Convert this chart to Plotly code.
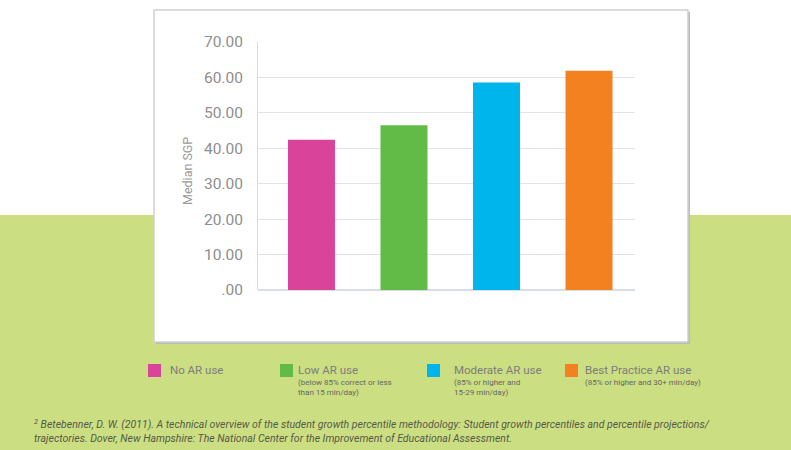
import plotly.graph_objects as go

# ---- data ----
categories = ["No AR use", "Low AR use", "Moderate AR use", "Best Practice AR use"]
median_sgp = [42.4, 46.5, 58.6, 61.9]
bar_colors = ["#d9449a", "#62bb46", "#00b5ec", "#f48120"]
legend_sub = ["", "(below 85% correct or less<br>than 15 min/day)",
              "(85% or higher and<br>15-29 min/day)", "(85% or higher and 30+ min/day)"]
tick_vals = [0, 10, 20, 30, 40, 50, 60, 70]
tick_text = [".00", "10.00", "20.00", "30.00", "40.00", "50.00", "60.00", "70.00"]
y_title = "Median SGP"
footnote = ("<sup>2</sup> Betebenner, D. W. (2011). A technical overview of the student growth percentile "
            "methodology: Student growth percentiles and percentile projections/<br>"
            "trajectories. Dover, New Hampshire: The National Center for the Improvement of Educational Assessment.")

W, H = 791, 450
L, R, T, B = 258, 156, 42, 160
PW, PH = W - L - R, H - T - B


def px(x):
    return (x - L) / PW


def py(y):
    return (H - B - y) / PH


FONT = "Roboto"

fig = go.Figure()
fig.add_trace(go.Bar(
    x=categories, y=median_sgp, marker=dict(color=bar_colors, line=dict(width=0)),
    width=0.508, showlegend=False, hoverinfo="x+y"))

shapes = [
    # green band
    dict(type="rect", xref="paper", yref="paper", x0=px(-5), x1=px(W + 5), y0=py(H + 5), y1=py(215),
         fillcolor="#cbde81", line=dict(width=0), layer="below"),
    # shadow
    dict(type="rect", xref="paper", yref="paper", x0=px(156), x1=px(690), y0=py(344), y1=py(12),
         fillcolor="#b9bdb0", line=dict(width=0), layer="below"),
    # white box
    dict(type="rect", xref="paper", yref="paper", x0=px(154), x1=px(688), y0=py(342), y1=py(10),
         fillcolor="white", line=dict(color="#cfcfcf", width=1.5), layer="below"),
]

annotations = [
    dict(xref="paper", yref="paper", x=px(187), y=py(171), text=y_title, textangle=-90,
         showarrow=False, font=dict(family=FONT, size=12.5, color="#9a9a9a"),
         xanchor="center", yanchor="middle"),
    dict(xref="paper", yref="paper", x=px(32), y=py(431), text=footnote, showarrow=False,
         xanchor="left", yanchor="middle", align="left",
         font=dict(family=FONT, size=10.5, color="#555a4a", style="italic")),
]

sq_x = [148, 280, 427, 565]
txt_x = [168, 296, 452, 583]
for i, cat in enumerate(categories):
    shapes.append(dict(type="rect", xref="paper", yref="paper",
                       x0=px(sq_x[i]), x1=px(sq_x[i] + 13), y0=py(377), y1=py(364),
                       fillcolor=bar_colors[i], line=dict(width=0)))
    annotations.append(dict(xref="paper", yref="paper", x=px(txt_x[i]), y=py(370), text=cat,
                            showarrow=False, xanchor="left", yanchor="middle",
                            font=dict(family=FONT, size=11.5, color="#7d7d7d")))
    if legend_sub[i]:
        annotations.append(dict(xref="paper", yref="paper", x=px(txt_x[i]), y=py(376),
                                text=legend_sub[i], showarrow=False, xanchor="left", yanchor="top",
                                align="left",
                                font=dict(family=FONT, size=8, color="#666666")))

fig.update_layout(
    width=W, height=H, margin=dict(l=L, r=R, t=T, b=B, pad=0),
    paper_bgcolor="white", plot_bgcolor="rgba(0,0,0,0)",
    bargap=0.5, shapes=shapes, annotations=annotations,
    xaxis=dict(range=[-0.578, 3.497], showticklabels=False, showgrid=False, zeroline=False,
               showline=False, ticks=""),
    yaxis=dict(range=[0, 70], tickvals=tick_vals, ticktext=tick_text, showgrid=True,
               gridcolor="#dfe4eb", gridwidth=1, zeroline=True, zerolinecolor="#d8dee6",
               zerolinewidth=1.5, showline=True, linecolor="#d8dde4", linewidth=1,
               ticks="", ticklabelstandoff=11,
               tickfont=dict(family=FONT, size=15.5, color="#8e8e8e")),
    font=dict(family=FONT),
)

fig.write_html("out.html", config={"displayModeBar": False},
               post_script="document.body.style.margin='0';document.body.style.overflow='hidden';")
